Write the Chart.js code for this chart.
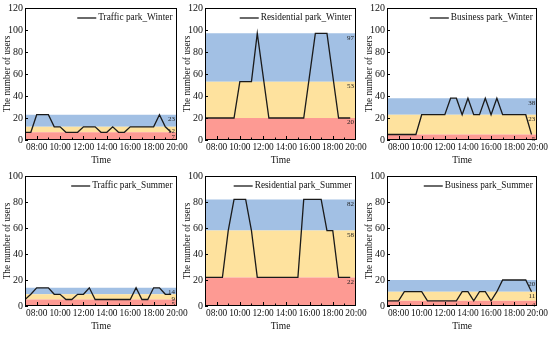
<!DOCTYPE html>
<html>
<head>
<meta charset="utf-8">
<script src="https://cdn.jsdelivr.net/npm/chart.js@4.4.1/dist/chart.umd.min.js"></script>
<style>
html,body{margin:0;padding:0;background:#fff;}
#wrap{position:relative;width:550px;height:337px;overflow:hidden;}
canvas{position:absolute;}
</style>
</head>
<body>
<div id="wrap">
  <canvas id="c_tw" width="195" height="168" style="left:0px;top:0px"></canvas>
  <canvas id="c_rw" width="195" height="168" style="left:180px;top:0px"></canvas>
  <canvas id="c_bw" width="188" height="168" style="left:362px;top:0px"></canvas>
  <canvas id="c_ts" width="195" height="166" style="left:0px;top:168px"></canvas>
  <canvas id="c_rs" width="195" height="166" style="left:180px;top:168px"></canvas>
  <canvas id="c_bs" width="188" height="166" style="left:362px;top:168px"></canvas>
</div>
<script>
// eje x: horas decimales (7 = 07:00 ... 20 = 20:00)
const X_MIN = 7, X_MAX = 20;
const xTickHours  = [8, 10, 12, 14, 16, 18, 20];
const xTickLabels = ['08:00','10:00','12:00','14:00','16:00','18:00','20:00'];

// Traffic park, invierno
const twTimes = [7, 7.5, 8, 9, 9.5, 10, 10.5, 11.5, 12, 13, 13.5, 14, 14.5, 15, 15.5, 16, 18, 18.5, 19, 19.5];
const twUsers = [7, 7, 23, 23, 12, 12, 7, 7, 12, 12, 7, 7, 12, 7, 7, 12, 12, 23, 12, 7];
const twBands = [7, 12, 23];

// Residential park, invierno
const rwTimes = [7, 9.5, 10, 11, 11.5, 12.5, 15.5, 16.5, 17.5, 18.5, 19.5];
const rwUsers = [20, 20, 53, 53, 97, 20, 20, 97, 97, 20, 20];
const rwBands = [20, 53, 97];

// Business park, invierno
const bwTimes = [7, 9.5, 10, 12, 12.5, 13, 13.5, 14, 14.5, 15, 15.5, 16, 16.5, 17, 19, 19.5];
const bwUsers = [5, 5, 23, 23, 38, 38, 23, 38, 23, 23, 38, 23, 38, 23, 23, 5];
const bwBands = [5, 23, 38];

// Traffic park, verano
const tsTimes = [7, 7.5, 8, 9, 9.5, 10, 10.5, 11, 11.5, 12, 12.5, 13, 16, 16.5, 17, 17.5, 18, 18.5, 19, 19.5];
const tsUsers = [5, 9, 14, 14, 9, 9, 5, 5, 9, 9, 14, 5, 5, 14, 5, 5, 14, 14, 9, 9];
const tsBands = [5, 9, 14];

// Residential park, verano
const rsTimes = [7, 8.5, 9, 9.5, 10.5, 11, 11.5, 15, 15.5, 17, 17.5, 18, 18.5, 19.5];
const rsUsers = [22, 22, 58, 82, 82, 58, 22, 22, 82, 82, 58, 58, 22, 22];
const rsBands = [22, 58, 82];

// Business park, verano
const bsTimes = [7, 8, 8.5, 10, 10.5, 13, 13.5, 14, 14.5, 15, 15.5, 16, 16.5, 17, 19, 19.5];
const bsUsers = [4, 4, 11, 11, 4, 4, 11, 11, 4, 11, 11, 4, 11, 20, 20, 11];
const bsBands = [4, 11, 20];

const BAND_COLORS = ['#fd9a93', '#fee29e', '#a2c0e4']; // rojo, amarillo, azul
const FONT = '"Liberation Serif", "Times New Roman", serif';
Chart.defaults.font.family = FONT;
Chart.defaults.color = '#111';

const panels = [
  {id:'c_tw', label:'Traffic park_Winter',     yMax:120, times:twTimes, users:twUsers, bands:twBands, padTop:7,   padRight:18},
  {id:'c_rw', label:'Residential park_Winter', yMax:120, times:rwTimes, users:rwUsers, bands:rwBands, padTop:7,   padRight:19},
  {id:'c_bw', label:'Business park_Winter',    yMax:120, times:bwTimes, users:bwUsers, bands:bwBands, padTop:7,   padRight:12},
  {id:'c_ts', label:'Traffic park_Summer',     yMax:100, times:tsTimes, users:tsUsers, bands:tsBands, padTop:7.3, padRight:18},
  {id:'c_rs', label:'Residential park_Summer', yMax:100, times:rsTimes, users:rsUsers, bands:rsBands, padTop:7.3, padRight:19},
  {id:'c_bs', label:'Business park_Summer',    yMax:100, times:bsTimes, users:bsUsers, bands:bsBands, padTop:7.3, padRight:12},
];

// marco completo, ticks hacia dentro, etiquetas de bandas y leyenda dentro del área
const framePlugin = {
  id:'frame',
  afterDatasetsDraw(chart, args, opts){
    const {ctx, chartArea:a, scales:{x, y}} = chart;
    ctx.save();
    ctx.fillStyle = '#222';
    ctx.font = '7px ' + FONT;
    ctx.textAlign = 'right';
    ctx.textBaseline = 'top';
    opts.bands.forEach(b => ctx.fillText(String(b), a.right - 2, y.getPixelForValue(b) + 1));

    ctx.strokeStyle = '#000';
    ctx.lineWidth = 1;
    ctx.strokeRect(Math.round(a.left) + 0.5, Math.round(a.top) + 0.5, Math.round(a.width) - 1, Math.round(a.height) - 1);
    ctx.beginPath();
    for(let h = X_MIN + 1; h < X_MAX; h++){
      const px = Math.round(x.getPixelForValue(h)) + 0.5;
      const len = h % 2 === 0 ? 4 : 2.5;
      ctx.moveTo(px, a.bottom); ctx.lineTo(px, a.bottom - len);
    }
    y.ticks.forEach(t => {
      const py = Math.round(y.getPixelForValue(t.value)) + 0.5;
      ctx.moveTo(a.left, py); ctx.lineTo(a.left + 3, py);
    });
    ctx.stroke();

    ctx.font = '9.3px ' + FONT;
    ctx.textBaseline = 'middle';
    ctx.fillStyle = '#111';
    const ly = a.top + 10;
    const tx = a.right - 4.5;
    const tw = ctx.measureText(opts.label).width;
    ctx.fillText(opts.label, tx, ly);
    ctx.beginPath();
    ctx.strokeStyle = '#1a1a1a';
    ctx.lineWidth = 1.3;
    ctx.moveTo(tx - tw - 21, ly); ctx.lineTo(tx - tw - 2, ly);
    ctx.stroke();
    ctx.restore();
  }
};

function buildPanel(p){
  const ds = p.bands.map((b, i) => ({
    label:'band' + i,
    data:[{x:X_MIN, y:b}, {x:X_MAX, y:b}],
    borderWidth:0, pointRadius:0, order:1,
    backgroundColor:BAND_COLORS[i],
    fill: i === 0 ? 'origin' : '-1'
  }));
  ds.push({
    label:p.label, order:0,
    data:p.times.map((t, i) => ({x:t, y:p.users[i]})),
    borderColor:'#1a1a1a', borderWidth:1.3, pointRadius:0, tension:0, fill:false
  });
  new Chart(document.getElementById(p.id), {
    type:'line',
    data:{datasets:ds},
    options:{
      responsive:false, animation:false, devicePixelRatio:1,
      layout:{padding:{top:p.padTop, right:p.padRight, left:0, bottom:0}},
      plugins:{legend:{display:false}, tooltip:{enabled:false},
               frame:{bands:p.bands, label:p.label}},
      scales:{
        x:{type:'linear', min:X_MIN, max:X_MAX,
           grid:{display:false, drawTicks:false}, border:{display:false},
           afterBuildTicks:s => { s.ticks = xTickHours.map(v => ({value:v})); },
           afterFit:s => { s.height = 28; },
           ticks:{autoSkip:false, maxRotation:0, padding:2, font:{size:9.4},
                  callback:v => xTickLabels[xTickHours.indexOf(v)]},
           title:{display:true, text:'Time', font:{size:9.5}, padding:{top:0, bottom:1.5}}},
        y:{min:0, max:p.yMax,
           grid:{display:false, drawTicks:false}, border:{display:false},
           afterFit:s => { s.width = 25; },
           ticks:{stepSize:10, padding:2, font:{size:10}},
           title:{display:true, text:'The number of users', font:{size:9.3}, padding:{top:2, bottom:0}}}
      }
    },
    plugins:[framePlugin]
  });
}

panels.forEach(buildPanel);
</script>
</body>
</html>
